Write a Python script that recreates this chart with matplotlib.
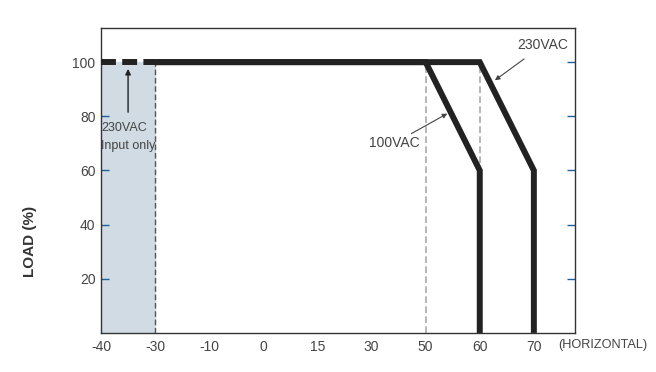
import matplotlib
matplotlib.use("Agg")
import matplotlib.pyplot as plt

# --- data ---
x_tick_labels = ["-40", "-30", "-10", "0", "15", "30", "50", "60", "70"]
temp_pos = list(range(len(x_tick_labels)))  # evenly spaced category positions
y_ticks = [20, 40, 60, 80, 100]

# curve points (position index, load %)
vac100_x = [1, 6, 7, 7]
vac100_y = [100, 100, 60, 0]
vac230_x = [1, 7, 8, 8]
vac230_y = [100, 100, 60, 0]
low_x = [0, 1]
low_y = [100, 100]

plt.rcParams['font.family'] = ['Liberation Sans', 'DejaVu Sans']

fig = plt.figure(figsize=(6.56, 3.72), dpi=100)
ax = fig.add_axes([0.154, 0.105, 0.7225, 0.8197])
ax.set_xlim(0, 8.76)
ax.set_ylim(0, 112.6)

line_col = "#222222"
tick_col = "#1f5f9f"
txt_col = "#444444"

ax.axvspan(0, 1, ymin=0, ymax=100/112.6, color="#d0dbe3", zorder=0)
ax.plot([1, 1], [0, 100], ls=(0, (4, 2)), color="#555555", lw=1.0, zorder=1)
ax.plot([6, 6], [0, 100], ls=(0, (4, 2)), color="#aaaaaa", lw=1.2, zorder=1)
ax.plot([7, 7], [0, 100], ls=(0, (4, 2)), color="#aaaaaa", lw=1.2, zorder=1)

ax.plot(low_x, low_y, color=line_col, lw=4.3, ls=(0, (2.5, 1.05)), zorder=3,
        solid_capstyle='butt', dash_capstyle='butt')
ax.plot(vac100_x, vac100_y, color=line_col, lw=4.3, zorder=3, solid_joinstyle='miter', solid_capstyle='butt')
ax.plot(vac230_x, vac230_y, color=line_col, lw=4.3, zorder=3, solid_joinstyle='miter', solid_capstyle='butt')

# ticks
ax.set_xticks(temp_pos)
ax.set_xticklabels(x_tick_labels)
ax.tick_params(axis='x', length=0, pad=5, labelsize=10, labelcolor=txt_col)
ax.set_xticks([3, 4, 5, 6], minor=True)
ax.tick_params(axis='x', which='minor', direction='in', length=7, color=tick_col, width=1)
ax.set_yticks(y_ticks)
ax.tick_params(axis='y', direction='in', length=6, color=tick_col, width=1,
               labelsize=10, labelcolor=txt_col, right=True, pad=4)

for s in ax.spines.values():
    s.set_color("#333333")
    s.set_linewidth(1.0)

ax.set_ylabel("LOAD (%)", fontsize=11, fontweight='bold', color="#333333")
ax.yaxis.set_label_coords(-0.135, 0.30)
fig.text(558/656, 1 - 345/372, "(HORIZONTAL)", fontsize=9.2, color=txt_col, va='center', ha='left')

ax.annotate("", xy=(0.5, 97.5), xytext=(0.5, 81.5),
            arrowprops=dict(arrowstyle='-|>', color="#222222", lw=1.0, mutation_scale=8,
                            shrinkA=0, shrinkB=0))
ax.text(0.0, 78.0, "230VAC\nInput only", fontsize=9, color=txt_col, va='top', ha='left', linespacing=1.65)

ax.annotate("100VAC", xy=(6.4, 81), xytext=(5.88, 70),
            fontsize=10, color=txt_col, ha='right', va='center',
            arrowprops=dict(arrowstyle='-|>', color="#444444", lw=0.8, mutation_scale=7,
                            shrinkA=0, shrinkB=0))
ax.annotate("230VAC", xy=(7.28, 93.3), xytext=(8.17, 106.3),
            fontsize=10, color=txt_col, ha='center', va='center',
            arrowprops=dict(arrowstyle='-|>', color="#444444", lw=0.8, mutation_scale=7,
                            shrinkA=5, shrinkB=0))

fig.savefig("out.png", dpi=100)
